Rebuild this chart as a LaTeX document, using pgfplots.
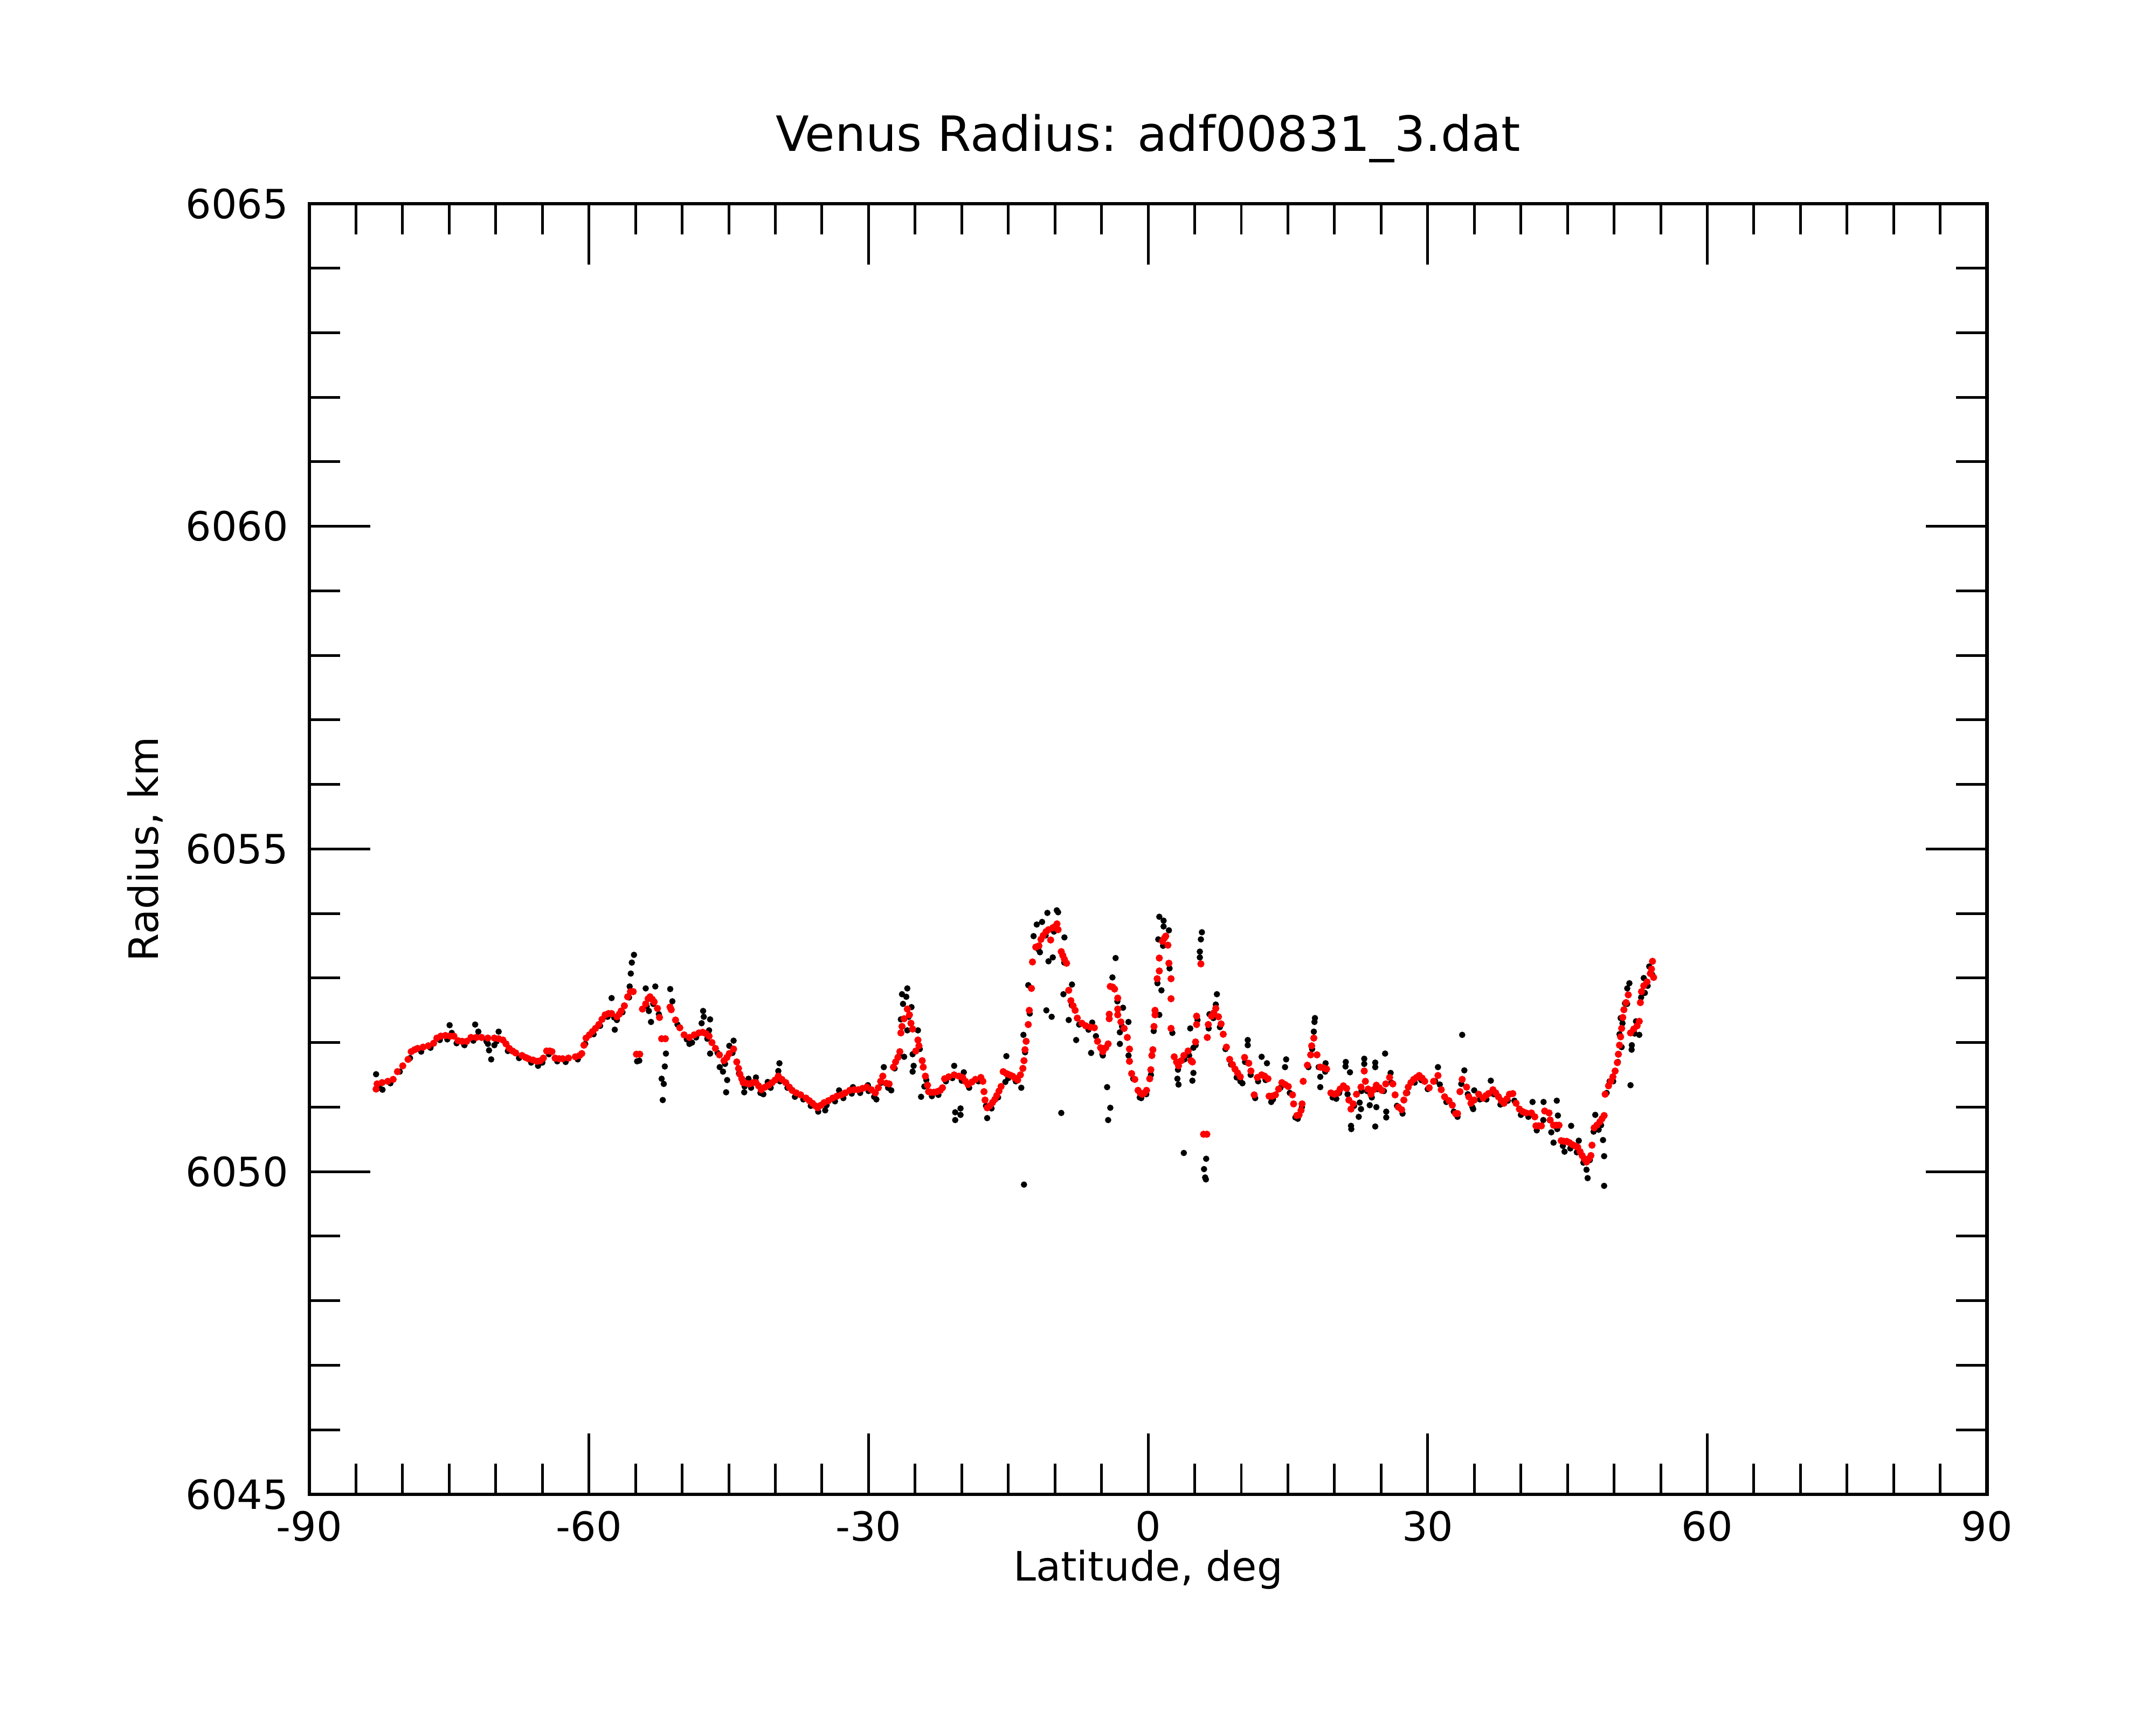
\documentclass[border=0pt]{standalone}
\usepackage{fontspec}
\setmainfont{DejaVu Sans}
\usepackage{pgfplots}
\pgfplotsset{compat=1.18}
\begin{document}
\begin{tikzpicture}
\path[use as bounding box] (-103.7pt,-77.2pt) rectangle (619pt,501pt);
\begin{axis}[
  at={(0,0)}, anchor=south west,
  scale only axis, width=562.3pt, height=432.7pt,
  xmin=-90, xmax=90, ymin=6045, ymax=6065,
  xtick={-90,-60,...,90}, ytick={6045,6050,...,6065},
  minor x tick num=5, minor y tick num=4,
  tick align=inside, xtick pos=both, ytick pos=both,
  major tick length=20.4pt, minor tick length=10.3pt,
  every tick/.style={black, line width=0.9pt},
  axis line style={line width=1.2pt},
  /pgf/number format/assume math mode=true,
  /pgf/number format/1000 sep={},
  ticklabel style={font=\fontsize{13.5}{16}\selectfont},
  xticklabel style={anchor=north, inner sep=0pt, yshift=-5.4pt},
  yticklabel style={anchor=east, inner sep=0pt, xshift=-6.9pt},
  title={Venus Radius: adf00831\_3.dat},
  title style={at={(axis description cs:0.5,1.0407)}, anchor=base, yshift=-6pt, font=\fontsize{16.3}{20}\selectfont, inner sep=0pt},
  xlabel={Latitude, deg},
  xlabel style={at={(axis description cs:0.5,-0.067)}, anchor=base, font=\fontsize{13.6}{16}\selectfont, inner sep=0pt},
  ylabel={Radius, km},
  ylabel style={at={(axis description cs:-0.0902,0.5)}, anchor=base, rotate=0, font=\fontsize{13.6}{16}\selectfont, inner sep=0pt},
]
% black points
\addplot[only marks, mark=*, mark size=0.85pt, mark options={draw=black, fill=black}] coordinates {
(-82.84,6051.51) (-82.15,6051.27) (-74.95,6052.27) (-74.72,6052.15) (-73.35,6051.96) (-72.21,6052.28)
(-71.87,6052.17) (-70.84,6051.98) (-70.72,6051.88) (-70.15,6051.96) (-70.49,6051.74) (-69.69,6052.17)
(-65.46,6051.64) (-57.57,6052.69) (-57.00,6052.35) (-57.23,6052.20) (-55.17,6053.36) (-55.40,6053.24)
(-55.51,6053.07) (-55.63,6052.87) (-54.83,6051.71) (-54.6,6051.72) (-53.91,6052.84) (-52.88,6052.87)
(-53.57,6052.49) (-53.34,6052.32) (-52.20,6051.44) (-51.97,6051.36) (-51.74,6051.83) (-51.86,6051.63)
(-52.08,6051.11) (-51.28,6052.83) (-51.05,6052.64) (-49.22,6051.98) (-47.75,6052.49) (-47.68,6052.40)
(-47.00,6052.36) (-47.11,6052.19) (-47.91,6052.30) (-48.94,6052.00) (-47.00,6051.83) (-45.97,6051.62)
(-45.62,6051.55) (-45.17,6051.42) (-45.28,6051.23) (-44.48,6052.03) (-44.94,6051.95) (-39.56,6051.68)
(-39.68,6051.56) (-42.88,6051.44) (-42.08,6051.46) (-43.34,6051.23) (-40.82,6051.39) (-41.28,6051.20)
(-34.65,6050.95) (-33.16,6051.26) (-31.67,6051.31) (-30.07,6051.34) (-29.16,6051.12) (-28.36,6051.62)
(-27.56,6051.26) (-25.84,6052.84) (-26.41,6052.75) (-25.95,6052.71) (-26.30,6052.60) (-25.39,6052.55)
(-26.53,6052.36) (-25.84,6052.19) (-24.70,6052.19) (-26.18,6051.78) (-25.27,6051.82) (-25.16,6051.64)
(-25.27,6051.55) (-24.36,6051.16) (-24.01,6051.32) (-20.81,6051.64) (-19.78,6051.54) (-20.70,6050.92)
(-20.13,6050.98) (-20.13,6050.88) (-20.70,6050.80) (-17.27,6050.83) (-15.21,6051.79) (-15.32,6051.39)
(-13.61,6051.30) (-13.38,6052.12) (-10.81,6054.01) (-9.66,6054.02) (-9.8,6054.05) (-11.38,6053.87)
(-11.95,6053.83) (-12.29,6053.65) (-8.98,6053.63) (-11.61,6053.40) (-10.23,6053.32) (-10.69,6053.26)
(-12.86,6052.89) (-10.92,6052.50) (-10.35,6052.40) (-8.17,6052.90) (-9.09,6052.75) (-8.52,6052.35)
(-7.72,6052.04) (-6.12,6051.84) (-6.00,6052.31) (-4.86,6051.80) (-4.40,6051.31) (-4.06,6050.99)
(-4.29,6050.80) (-3.49,6053.31) (-3.83,6053.01) (-2.69,6052.54) (-3.03,6052.16) (-3.03,6051.98)
(-2.11,6052.32) (-9.32,6050.91) (-13.32,6049.80) (1.20,6053.95) (1.66,6053.89) (1.66,6053.80)
(2.23,6053.74) (1.09,6053.60) (1.43,6052.81) (1.20,6052.43) (-0.74,6051.14) (5.77,6053.71)
(5.66,6053.60) (5.55,6053.41) (5.55,6053.32) (4.52,6052.22) (3.26,6051.35) (3.14,6051.44)
(4.86,6051.53) (4.75,6051.41) (4.86,6051.92) (3.83,6050.29) (6.23,6050.20) (6.00,6050.04)
(6.12,6049.91) (6.2,6049.88) (7.38,6052.75) (7.26,6052.59) (6.58,6052.44) (10.12,6051.37)
(10.69,6052.04) (10.69,6051.96) (12.18,6051.78) (12.75,6051.68) (11.49,6051.14) (13.21,6051.08)
(14.81,6051.74) (14.69,6051.62) (16.06,6050.82) (17.90,6052.38) (17.85,6052.32) (17.78,6052.17)
(18.47,6051.47) (18.47,6051.31) (19.04,6051.68) (20.19,6051.13) (21.21,6051.70) (21.18,6051.63)
(21.66,6051.54) (21.77,6050.71) (21.8,6050.66) (22.60,6050.85) (22.84,6050.97) (22.7,6051.07)
(23.19,6051.75) (23.19,6051.67) (23.78,6051.03) (24.37,6051.69) (24.37,6051.62) (24.49,6051.00)
(24.37,6050.70) (25.43,6051.83) (25.55,6050.93) (25.55,6050.84) (26.02,6051.53) (33.70,6052.12)
(33.93,6051.57) (31.10,6051.62) (36.77,6051.41) (34.99,6051.26) (34.88,6050.97) (41.25,6051.08)
(42.43,6051.08) (43.85,6051.10) (43.97,6050.87) (43.26,6050.61) (43.50,6050.45) (44.68,6050.31)
(45.39,6050.71) (46.21,6050.48) (47.04,6050.03) (47.16,6049.90) (47.98,6050.88) (48.34,6050.65)
(48.81,6050.49) (48.93,6050.24) (48.93,6049.78) (51.76,6051.34) (51.88,6051.89) (51.9,6051.96)
(51.64,6052.92) (51.41,6052.84) (51.17,6052.61) (50.70,6052.38) (50.58,6052.13) (50.81,6051.93)
(52.35,6052.33) (52.70,6052.12) (53.18,6053.00) (53.30,6052.77) (53.77,6053.18) (49.52,6051.40)
(-82.5,6051.30) (-81.3,6051.37) (-80.3,6051.55) (-79.2,6051.76) (-78.0,6051.86) (-77.0,6051.92)
(-76.0,6052.04) (-75.2,6052.05) (-74.2,6051.99) (-73.4,6051.97) (-72.4,6052.03) (-71.0,6052.02)
(-69.9,6052.02) (-68.7,6051.87) (-67.5,6051.76) (-66.2,6051.69) (-65.0,6051.69) (-64.3,6051.82)
(-63.4,6051.71) (-62.5,6051.70) (-61.2,6051.74) (-60.4,6051.98) (-59.5,6052.13) (-58.8,6052.26)
(-58.0,6052.40) (-57.3,6052.39) (-56.4,6052.47) (-55.7,6052.70) (-53.8,6052.56) (-53.1,6052.60)
(-52.5,6052.44) (-50.5,6052.28) (-49.5,6052.05) (-48.5,6052.08) (-47.3,6052.06) (-46.2,6051.84)
(-45.4,6051.67) (-44.6,6051.84) (-43.9,6051.52) (-43.3,6051.32) (-42.6,6051.30) (-41.6,6051.22)
(-40.5,6051.30) (-39.5,6051.40) (-38.7,6051.30) (-37.9,6051.16) (-37.0,6051.12) (-36.2,6051.02)
(-35.4,6050.93) (-34.5,6051.03) (-33.6,6051.09) (-32.7,6051.14) (-31.8,6051.21) (-30.9,6051.22)
(-30.0,6051.25) (-29.4,6051.16) (-28.6,6051.38) (-27.9,6051.30) (-27.2,6051.60) (-26.7,6051.80)
(-25.7,6052.40) (-24.5,6051.90) (-23.8,6051.42) (-23.2,6051.17) (-22.5,6051.19) (-21.7,6051.40)
(-21.0,6051.45) (-20.0,6051.41) (-19.2,6051.30) (-18.2,6051.40) (-17.4,6051.02) (-16.8,6050.98)
(-16.1,6051.15) (-15.0,6051.45) (-14.2,6051.40) (-13.2,6051.85) (-12.7,6052.45) (-11.8,6053.45)
(-11.0,6053.66) (-10.1,6053.72) (-9.0,6053.24) (-8.2,6052.58) (-7.4,6052.28) (-6.4,6052.20)
(-5.6,6052.10) (-4.9,6051.82) (-3.3,6052.64) (-2.8,6052.25) (-2.1,6051.80) (-1.6,6051.44)
(-0.9,6051.15) (-0.2,6051.20) (0.3,6051.50) (0.6,6052.18) (1.0,6052.92) (1.6,6053.50)
(2.3,6053.15) (2.6,6052.15) (3.2,6051.58) (3.9,6051.74) (4.4,6051.80) (5.1,6051.96)
(5.3,6052.35) (6.5,6052.22) (7.0,6052.38) (7.7,6052.24) (8.3,6051.90) (8.9,6051.66)
(9.5,6051.46) (9.9,6051.40) (10.4,6051.70) (11.0,6051.50) (11.8,6051.40) (12.6,6051.42)
(13.4,6051.12) (14.2,6051.30) (15.2,6051.22) (15.8,6050.84) (16.5,6051.00) (17.2,6051.62)
(17.6,6051.90) (18.3,6051.62) (19.0,6051.55) (19.8,6051.15) (20.5,6051.22) (21.4,6051.20)
(22.1,6051.02) (22.9,6051.25) (23.5,6051.25) (24.0,6051.15) (24.6,6051.28) (25.3,6051.25)
(26.1,6051.38) (26.7,6051.02) (27.3,6050.90) (27.8,6051.22) (28.6,6051.38) (29.3,6051.42)
(30.0,6051.28) (30.8,6051.40) (31.3,6051.35) (32.0,6051.08) (32.8,6050.93) (33.2,6050.85)
(33.6,6051.36) (34.3,6051.20) (34.8,6051.00) (35.6,6051.12) (36.3,6051.12) (37.1,6051.20)
(37.8,6051.04) (38.6,6051.10) (39.3,6051.10) (40.0,6050.88) (40.8,6050.85) (41.7,6050.64)
(42.4,6050.80) (43.1,6050.80) (43.9,6050.66) (44.5,6050.40) (45.3,6050.36) (46.0,6050.30)
(46.7,6050.14) (47.4,6050.18) (47.8,6050.62) (48.6,6050.72) (49.2,6051.22) (49.9,6051.40)
(50.4,6051.70) (50.9,6052.30) (51.4,6052.60) (52.2,6052.14) (52.9,6052.70) (53.6,6052.88)
(54.1,6053.05)
};
% red points
\addplot[only marks, mark=*, mark size=1pt, mark options={draw=red, fill=red}] coordinates {
(-82.84,6051.28) (-82.73,6051.36) (-82.2,6051.38) (-81.58,6051.40) (-81.01,6051.43) (-80.55,6051.55)
(-79.98,6051.64) (-79.41,6051.74) (-79.07,6051.86) (-78.7,6051.89) (-78.38,6051.91) (-77.8,6051.93)
(-77.24,6051.95) (-76.67,6051.99) (-76.32,6052.07) (-75.9,6052.10) (-75.4,6052.11) (-74.9,6052.10)
(-74.49,6052.10) (-74.04,6052.03) (-73.6,6052.02) (-73.12,6052.02) (-72.66,6052.08) (-72.1,6052.08)
(-71.52,6052.08) (-70.85,6052.07) (-70.15,6052.07) (-69.7,6052.06) (-69.23,6052.04) (-68.9,6051.98)
(-68.55,6051.91) (-68.2,6051.87) (-67.86,6051.84) (-67.18,6051.80) (-66.8,6051.77) (-66.49,6051.75)
(-66.0,6051.73) (-65.57,6051.71) (-65.2,6051.72) (-64.89,6051.76) (-64.54,6051.87) (-64.2,6051.87)
(-63.97,6051.86) (-63.63,6051.76) (-63.2,6051.75) (-62.83,6051.75) (-62.2,6051.76) (-61.46,6051.78)
(-61.0,6051.80) (-60.77,6051.83) (-60.54,6051.96) (-60.31,6052.07) (-59.95,6052.12) (-59.63,6052.17)
(-59.3,6052.22) (-58.94,6052.28) (-58.6,6052.36) (-58.26,6052.43) (-57.9,6052.45) (-57.57,6052.45)
(-57.00,6052.40) (-56.75,6052.44) (-56.54,6052.49) (-56.20,6052.57) (-55.85,6052.71) (-55.55,6052.79)
(-55.25,6052.79) (-54.9,6051.82) (-54.55,6051.82) (-54.26,6052.52) (-53.91,6052.60) (-53.65,6052.68)
(-53.45,6052.71) (-53.2,6052.67) (-53.00,6052.63) (-52.65,6052.53) (-52.43,6052.39) (-52.2,6052.06)
(-51.8,6052.06) (-51.3,6052.55) (-51.17,6052.51) (-50.71,6052.35) (-50.25,6052.23) (-49.79,6052.12)
(-49.22,6052.08) (-48.7,6052.12) (-48.20,6052.15) (-47.80,6052.16) (-47.45,6052.14) (-47.11,6052.10)
(-46.8,6052.00) (-46.43,6051.91) (-46.0,6051.81) (-45.51,6051.72) (-45.2,6051.77) (-44.94,6051.83)
(-44.48,6051.90) (-44.14,6051.70) (-43.95,6051.60) (-43.80,6051.51) (-43.6,6051.44) (-43.45,6051.38)
(-43.1,6051.37) (-42.77,6051.36) (-42.4,6051.38) (-42.08,6051.38) (-41.8,6051.33) (-41.51,6051.27)
(-41.1,6051.31) (-40.71,6051.34) (-40.35,6051.38) (-40.02,6051.42) (-39.68,6051.48) (-39.3,6051.43)
(-38.88,6051.38) (-38.5,6051.31) (-38.19,6051.26) (-37.75,6051.22) (-37.28,6051.19) (-36.71,6051.14)
(-36.35,6051.10) (-36.02,6051.06) (-35.7,6051.02) (-35.45,6050.99) (-35.1,6051.03) (-34.76,6051.07)
(-34.3,6051.10) (-33.85,6051.14) (-33.4,6051.17) (-32.93,6051.19) (-32.5,6051.22) (-32.02,6051.26)
(-31.55,6051.27) (-31.10,6051.27) (-30.65,6051.29) (-30.19,6051.31) (-29.7,6051.27) (-29.27,6051.22)
(-28.95,6051.30) (-28.70,6051.40) (-28.47,6051.48) (-28.1,6051.37) (-27.79,6051.36) (-27.33,6051.62)
(-27.10,6051.70) (-26.85,6051.77) (-26.64,6051.86) (-26.53,6052.15) (-26.41,6052.25) (-26.18,6052.37)
(-25.84,6052.52) (-25.61,6052.43) (-25.45,6052.30) (-25.27,6052.21) (-24.93,6051.87) (-24.70,6052.04)
(-24.59,6051.95) (-24.24,6051.72) (-24.13,6051.62) (-23.90,6051.48) (-23.67,6051.34) (-23.56,6051.24)
(-23.33,6051.23) (-23.0,6051.23) (-22.64,6051.24) (-22.3,6051.26) (-22.07,6051.30) (-21.84,6051.44)
(-21.4,6051.47) (-20.81,6051.50) (-20.3,6051.48) (-19.90,6051.46) (-19.6,6051.40) (-19.32,6051.35)
(-18.9,6051.39) (-18.53,6051.43) (-17.95,6051.46) (-17.73,6051.40) (-17.61,6051.24) (-17.50,6051.11)
(-17.27,6050.99) (-17.0,6051.02) (-16.70,6051.07) (-16.45,6051.12) (-16.24,6051.18) (-16.0,6051.25)
(-15.78,6051.32) (-15.55,6051.55) (-15.2,6051.52) (-14.87,6051.50) (-14.55,6051.48) (-14.29,6051.45)
(-14.0,6051.42) (-13.7,6051.50) (-13.44,6051.60) (-13.32,6051.72) (-13.21,6051.89) (-13.09,6052.02)
(-12.86,6052.28) (-12.75,6052.50) (-12.52,6052.84) (-12.41,6053.25) (-12.06,6053.48) (-11.72,6053.50)
(-11.5,6053.60) (-11.26,6053.66) (-10.95,6053.72) (-10.69,6053.75) (-10.46,6053.59) (-10.23,6053.78)
(-9.95,6053.80) (-9.78,6053.84) (-9.66,6053.75) (-9.32,6053.41) (-9.15,6053.35) (-8.98,6053.29)
(-8.75,6053.23) (-8.52,6052.81) (-8.29,6052.65) (-8.05,6052.57) (-7.83,6052.50) (-7.60,6052.38)
(-7.1,6052.30) (-6.69,6052.26) (-6.2,6052.24) (-5.77,6052.23) (-5.43,6052.02) (-5.1,6051.92)
(-4.86,6051.86) (-4.55,6051.92) (-4.29,6051.98) (-4.17,6052.44) (-4.17,6052.37) (-4.06,6052.87)
(-3.80,6052.86) (-3.60,6052.83) (-3.26,6052.69) (-3.26,6052.52) (-3.26,6052.43) (-2.92,6052.32)
(-2.57,6052.22) (-2.23,6052.08) (-2.00,6051.90) (-2.00,6051.71) (-1.77,6051.52) (-1.43,6051.43)
(-1.08,6051.26) (-0.85,6051.22) (-0.63,6051.20) (-0.40,6051.22) (-0.17,6051.26) (0.17,6051.44)
(0.29,6051.58) (0.40,6051.80) (0.51,6051.89) (0.63,6052.25) (0.74,6052.43) (0.74,6052.50)
(0.97,6052.99) (1.20,6053.11) (1.20,6053.31) (1.54,6053.57) (1.75,6053.62) (1.89,6053.65)
(2.12,6053.51) (2.23,6053.23) (2.46,6052.99) (2.46,6052.68) (2.46,6052.22) (2.80,6051.78)
(3.05,6051.70) (3.26,6051.64) (3.55,6051.72) (3.83,6051.80) (4.29,6051.87) (4.60,6051.72)
(4.75,6051.70) (5.09,6052.01) (5.20,6052.28) (5.20,6052.41) (5.66,6053.22) (5.95,6050.58)
(6.30,6050.58) (6.35,6052.08) (6.46,6052.28) (6.80,6052.41) (7.05,6052.46) (7.26,6052.53)
(7.55,6052.40) (7.83,6052.29) (8.06,6052.13) (8.40,6051.93) (8.75,6051.74) (9.05,6051.66)
(9.32,6051.59) (9.6,6051.53) (9.89,6051.47) (10.35,6051.77) (10.80,6051.68) (11.03,6051.56)
(11.38,6051.19) (11.72,6051.46) (12.18,6051.50) (12.5,6051.48) (12.86,6051.44) (12.98,6051.17)
(13.3,6051.17) (13.66,6051.19) (14.0,6051.28) (14.35,6051.38) (14.7,6051.35) (15.04,6051.32)
(15.49,6051.19) (15.61,6051.05) (15.95,6050.87) (16.2,6050.88) (16.41,6050.95) (16.52,6051.05)
(16.64,6051.40) (17.09,6051.65) (17.44,6051.81) (17.55,6051.95) (17.78,6052.07) (18.12,6051.81)
(18.47,6051.62) (18.8,6051.61) (19.15,6051.59) (19.61,6051.22) (20.0,6051.20) (20.30,6051.22)
(20.6,6051.28) (20.95,6051.33) (21.30,6051.29) (21.54,6051.11) (21.77,6050.97) (22.0,6051.05)
(22.36,6051.20) (22.84,6051.31) (23.19,6051.56) (23.31,6051.40) (23.6,6051.28) (23.90,6051.20)
(24.2,6051.27) (24.49,6051.34) (24.8,6051.30) (25.08,6051.26) (25.5,6051.36) (25.91,6051.46)
(26.26,6051.36) (26.50,6051.19) (26.85,6051.00) (27.20,6050.96) (27.44,6051.11) (27.7,6051.22)
(27.91,6051.31) (28.2,6051.38) (28.50,6051.43) (28.8,6051.46) (29.09,6051.49) (29.4,6051.45)
(29.68,6051.40) (30.16,6051.30) (30.63,6051.40) (31.10,6051.49) (31.45,6051.27) (31.81,6051.16)
(32.28,6051.10) (32.64,6051.03) (32.99,6050.90) (33.2,6050.90) (33.46,6051.24) (33.70,6051.43)
(34.17,6051.31) (34.41,6051.16) (34.64,6051.06) (34.99,6051.11) (35.47,6051.20) (35.94,6051.14)
(36.25,6051.18) (36.53,6051.21) (37.00,6051.27) (37.3,6051.22) (37.59,6051.16) (37.9,6051.10)
(38.18,6051.06) (38.5,6051.13) (38.77,6051.20) (39.13,6051.21) (39.48,6051.06) (39.84,6050.97)
(40.2,6050.93) (40.54,6050.91) (41.13,6050.91) (41.49,6050.85) (41.61,6050.71) (41.9,6050.71)
(42.20,6050.71) (42.55,6050.94) (43.02,6050.91) (43.14,6050.80) (43.50,6050.72) (43.8,6050.72)
(44.09,6050.72) (44.32,6050.48) (44.6,6050.47) (44.91,6050.47) (45.2,6050.45) (45.50,6050.42)
(45.8,6050.40) (46.09,6050.38) (46.35,6050.31) (46.57,6050.25) (46.8,6050.20) (47.04,6050.15)
(47.3,6050.20) (47.51,6050.25) (47.63,6050.41) (47.86,6050.68) (48.15,6050.72) (48.46,6050.77)
(48.7,6050.82) (48.93,6050.87) (49.04,6051.20) (49.40,6051.33) (49.65,6051.40) (49.87,6051.47)
(50.11,6051.56) (50.35,6051.69) (50.46,6051.82) (50.58,6051.96) (50.70,6052.09) (50.81,6052.22)
(50.93,6052.39) (51.05,6052.51) (51.29,6052.62) (51.52,6052.74) (51.76,6052.15) (52.11,6052.21)
(52.47,6052.26) (52.70,6052.33) (52.82,6052.62) (52.94,6052.79) (53.18,6052.88) (53.53,6052.94)
(53.89,6053.07) (54.01,6053.14) (54.12,6053.26) (54.24,6053.01)
};
\end{axis}
\end{tikzpicture}
\end{document}
